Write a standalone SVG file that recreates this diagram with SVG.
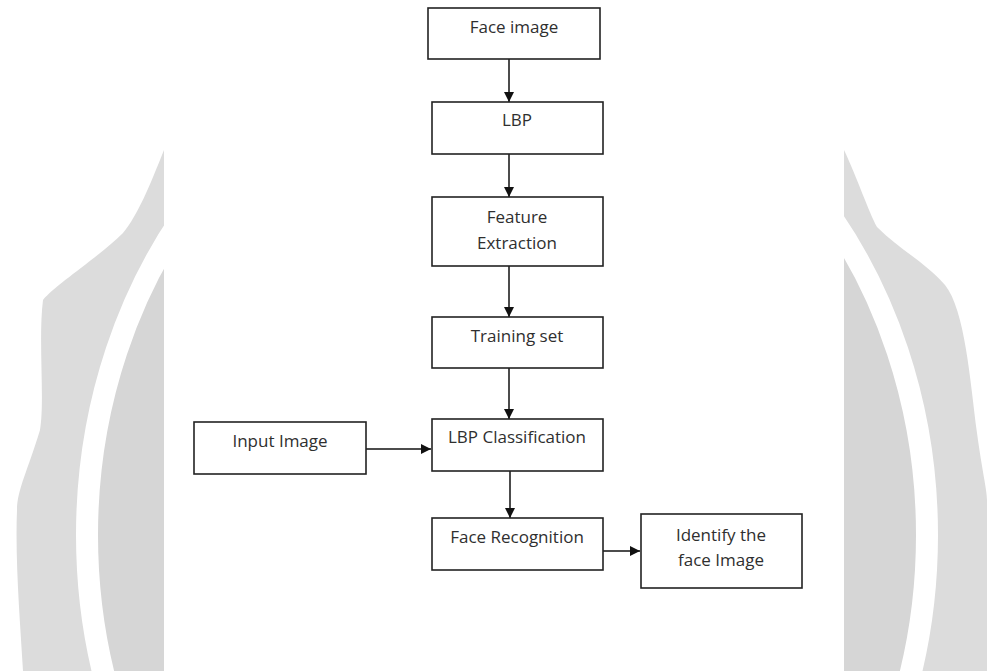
<svg xmlns="http://www.w3.org/2000/svg" width="987" height="671" viewBox="0 0 987 671">
<style>
.box{fill:#fff;stroke:#222;stroke-width:1.6}
.t{font-family:"Open Sans","Noto Sans",sans-serif;font-size:17px;fill:#2f2f2f;text-anchor:middle}
.c{stroke:#111;stroke-width:1.5;fill:none;marker-end:url(#ah)}
</style>
<defs>
<marker id="ah" viewBox="0 0 10 10" refX="10" refY="5" markerWidth="10" markerHeight="10" markerUnits="userSpaceOnUse" orient="auto">
<path d="M0,0 L10,5 L0,10 z" fill="#111"/>
</marker>
</defs>
<rect width="987" height="671" fill="#fff"/>
<g id="watermark">
<path d="M164,150 C150,185 138,215 123,233 C95,260 55,285 43,300 C38,340 45,400 40,430 C28,470 17,490 17,510 C15,560 20,620 23,671 L164,671 Z" fill="#dcdcdc"/>
<path d="M844,150 C858,180 868,210 877,227 C900,250 925,262 945,285 C965,310 970,380 977,433 C982,470 987,490 987,500 L987,671 L844,671 Z" fill="#dcdcdc"/>
<ellipse cx="507" cy="540" rx="430" ry="300" fill="#d6d6d6"/>
<ellipse cx="507" cy="535" rx="420" ry="500" fill="#d6d6d6" stroke="#fff" stroke-width="22"/>
<rect x="164" y="0" width="680" height="671" fill="#fff"/>
</g>
<g id="connectors">
<line class="c" x1="509" y1="59" x2="509" y2="102"/>
<line class="c" x1="509" y1="154" x2="509" y2="197"/>
<line class="c" x1="509" y1="266" x2="509" y2="317"/>
<line class="c" x1="509" y1="368" x2="509" y2="419"/>
<line class="c" x1="366" y1="449" x2="431" y2="449"/>
<line class="c" x1="510" y1="471" x2="510" y2="518"/>
<line class="c" x1="603" y1="551" x2="640" y2="551"/>
</g>
<g id="n1"><rect class="box" x="428" y="8" width="172" height="51"/><text class="t" x="514" y="33">Face image</text></g>
<g id="n2"><rect class="box" x="432" y="102" width="171" height="52"/><text class="t" x="517" y="126">LBP</text></g>
<g id="n3"><rect class="box" x="432" y="197" width="171" height="69"/><text class="t" x="517" y="223">Feature</text><text class="t" x="517" y="249">Extraction</text></g>
<g id="n4"><rect class="box" x="432" y="317" width="171" height="51"/><text class="t" x="517" y="342">Training set</text></g>
<g id="n5"><rect class="box" x="194" y="422" width="172" height="52"/><text class="t" x="280" y="447">Input Image</text></g>
<g id="n6"><rect class="box" x="432" y="419" width="171" height="52"/><text class="t" x="517" y="443">LBP Classification</text></g>
<g id="n7"><rect class="box" x="432" y="518" width="171" height="52"/><text class="t" x="517" y="543">Face Recognition</text></g>
<g id="n8"><rect class="box" x="641" y="514" width="161" height="74"/><text class="t" x="721" y="541">Identify the</text><text class="t" x="721" y="566">face Image</text></g>
</svg>
